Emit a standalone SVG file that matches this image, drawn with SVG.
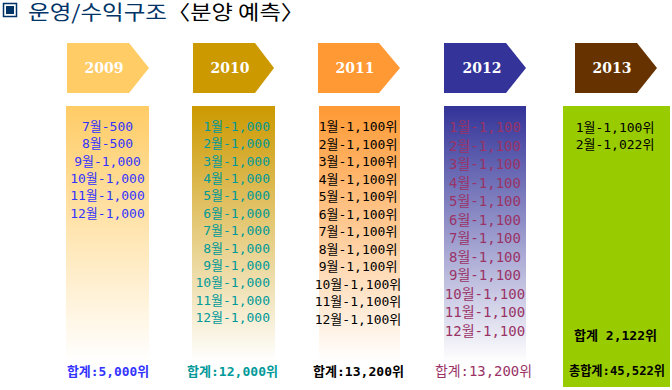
<svg xmlns="http://www.w3.org/2000/svg" width="672" height="390" viewBox="0 0 672 390">
<style>
.yr{font-family:"DejaVu Serif","Liberation Serif",serif;font-size:14px;font-weight:bold;fill:#fff;text-anchor:middle}
.m{font-family:"DejaVu Sans Mono","Noto Sans CJK KR",monospace;font-size:13px;text-anchor:middle}
.s{font-family:"DejaVu Sans Mono","Noto Sans CJK KR",monospace;font-size:13px;font-weight:bold;text-anchor:middle}
.title{font-family:"Noto Sans CJK KR","Noto Sans",sans-serif;font-size:20px}
</style>
<defs>
<linearGradient id="g09" x1="0" y1="0" x2="0" y2="1"><stop offset="0" stop-color="#FFCC66"/><stop offset="1" stop-color="#FFFFFF"/></linearGradient>
<linearGradient id="g10" x1="0" y1="0" x2="0" y2="1"><stop offset="0" stop-color="#CC9900"/><stop offset="1" stop-color="#FFFFFF"/></linearGradient>
<linearGradient id="g11" x1="0" y1="0" x2="0" y2="1"><stop offset="0" stop-color="#FF9933"/><stop offset="1" stop-color="#FFFFFF"/></linearGradient>
<linearGradient id="g12" x1="0" y1="0" x2="0" y2="1"><stop offset="0" stop-color="#333399"/><stop offset="1" stop-color="#FFFFFF"/></linearGradient>
</defs>
<rect width="672" height="390" fill="#fff"/>
<g id="title">
<rect x="3.5" y="3.5" width="13" height="13" fill="none" stroke="#003366" stroke-width="1.5"/>
<rect x="6" y="6" width="8" height="8" fill="#003366"/>
<text x="28" y="20" class="title" fill="#003366" textLength="139" lengthAdjust="spacingAndGlyphs">운영/수익구조</text>
<text x="167" y="20" class="title" fill="#000" textLength="137" lengthAdjust="spacingAndGlyphs">〈분양 예측〉</text>
</g>
<g id="y2009">
<polygon points="67,43 129,43 149,68 129,93 67,93" fill="#FFCC66"/>
<text x="104" y="73" class="yr">2009</text>
<rect x="66" y="106" width="83" height="256" fill="url(#g09)"/>
<g class="m" fill="#3333FF">
<text x="107.5" y="131">7월-500</text>
<text x="107.5" y="148.3">8월-500</text>
<text x="107.5" y="165.6">9월-1,000</text>
<text x="107.5" y="183">10월-1,000</text>
<text x="107.5" y="200.2">11월-1,000</text>
<text x="107.5" y="217.5">12월-1,000</text>
</g>
<text x="108" y="376" class="s" fill="#3333FF" textLength="82" lengthAdjust="spacingAndGlyphs">합계:5,000위</text>
</g>
<g id="y2010">
<polygon points="193,43 255,43 274,68 255,93 193,93" fill="#CC9900"/>
<text x="230" y="73" class="yr">2010</text>
<rect x="192" y="106" width="83" height="256" fill="url(#g10)"/>
<g class="m" fill="#009999" style="text-anchor:end">
<text x="270" y="131">1월-1,000</text>
<text x="270" y="148.4">2월-1,000</text>
<text x="270" y="165.7">3월-1,000</text>
<text x="270" y="183.1">4월-1,000</text>
<text x="270" y="200.4">5월-1,000</text>
<text x="270" y="217.8">6월-1,000</text>
<text x="270" y="235.2">7월-1,000</text>
<text x="270" y="252.5">8월-1,000</text>
<text x="270" y="269.9">9월-1,000</text>
<text x="270" y="287.2">10월-1,000</text>
<text x="270" y="304.6">11월-1,000</text>
<text x="270" y="322">12월-1,000</text>
</g>
<text x="232.5" y="376" class="s" fill="#009999" textLength="91" lengthAdjust="spacingAndGlyphs">합계:12,000위</text>
</g>
<g id="y2011">
<polygon points="318,43 379,43 400,68 379,93 318,93" fill="#FF9933"/>
<text x="355" y="73" class="yr">2011</text>
<rect x="319" y="106" width="81" height="256" fill="url(#g11)"/>
<g class="m" fill="#000">
<text x="358" y="131">1월-1,100위</text>
<text x="358" y="148.5">2월-1,100위</text>
<text x="358" y="166">3월-1,100위</text>
<text x="358" y="183.5">4월-1,100위</text>
<text x="358" y="201">5월-1,100위</text>
<text x="358" y="218.5">6월-1,100위</text>
<text x="358" y="236">7월-1,100위</text>
<text x="358" y="253.5">8월-1,100위</text>
<text x="358" y="271">9월-1,100위</text>
<text x="358" y="288.5">10월-1,100위</text>
<text x="358" y="306">11월-1,100위</text>
<text x="358" y="323.5">12월-1,100위</text>
</g>
<text x="358.5" y="376" class="s" fill="#000" textLength="91" lengthAdjust="spacingAndGlyphs">합계:13,200위</text>
</g>
<g id="y2012">
<polygon points="444,43 506,43 526,68 506,93 444,93" fill="#333399"/>
<text x="482" y="73" class="yr">2012</text>
<rect x="444" y="106" width="82" height="256" fill="url(#g12)"/>
<g class="m" fill="#993366" style="font-size:14px">
<text x="485" y="132">1월-1,100</text>
<text x="485" y="150.5">2월-1,100</text>
<text x="485" y="169">3월-1,100</text>
<text x="485" y="187.5">4월-1,100</text>
<text x="485" y="206">5월-1,100</text>
<text x="485" y="224.5">6월-1,100</text>
<text x="485" y="243">7월-1,100</text>
<text x="485" y="261.5">8월-1,100</text>
<text x="485" y="280">9월-1,100</text>
<text x="485" y="298.5">10월-1,100</text>
<text x="485" y="317">11월-1,100</text>
<text x="485" y="335.5">12월-1,100</text>
</g>
<text x="483.5" y="376" class="m" fill="#993366" style="font-size:14px" textLength="97" lengthAdjust="spacingAndGlyphs">합계:13,200위</text>
</g>
<g id="y2013">
<polygon points="575,43 637,43 657,68 637,93 575,93" fill="#663300"/>
<text x="612" y="73" class="yr">2013</text>
<rect x="563" y="106" width="107" height="281" fill="#99CC00"/>
<g class="m" fill="#000">
<text x="615" y="131.5">1월-1,100위</text>
<text x="615" y="149">2월-1,022위</text>
</g>
<text x="615.5" y="339.5" class="s" fill="#000" textLength="83" lengthAdjust="spacingAndGlyphs">합계 2,122위</text>
<text x="617" y="375" class="s" fill="#000" textLength="96" lengthAdjust="spacingAndGlyphs">총합계:45,522위</text>
</g>
<g id="connectors"></g>
</svg>
